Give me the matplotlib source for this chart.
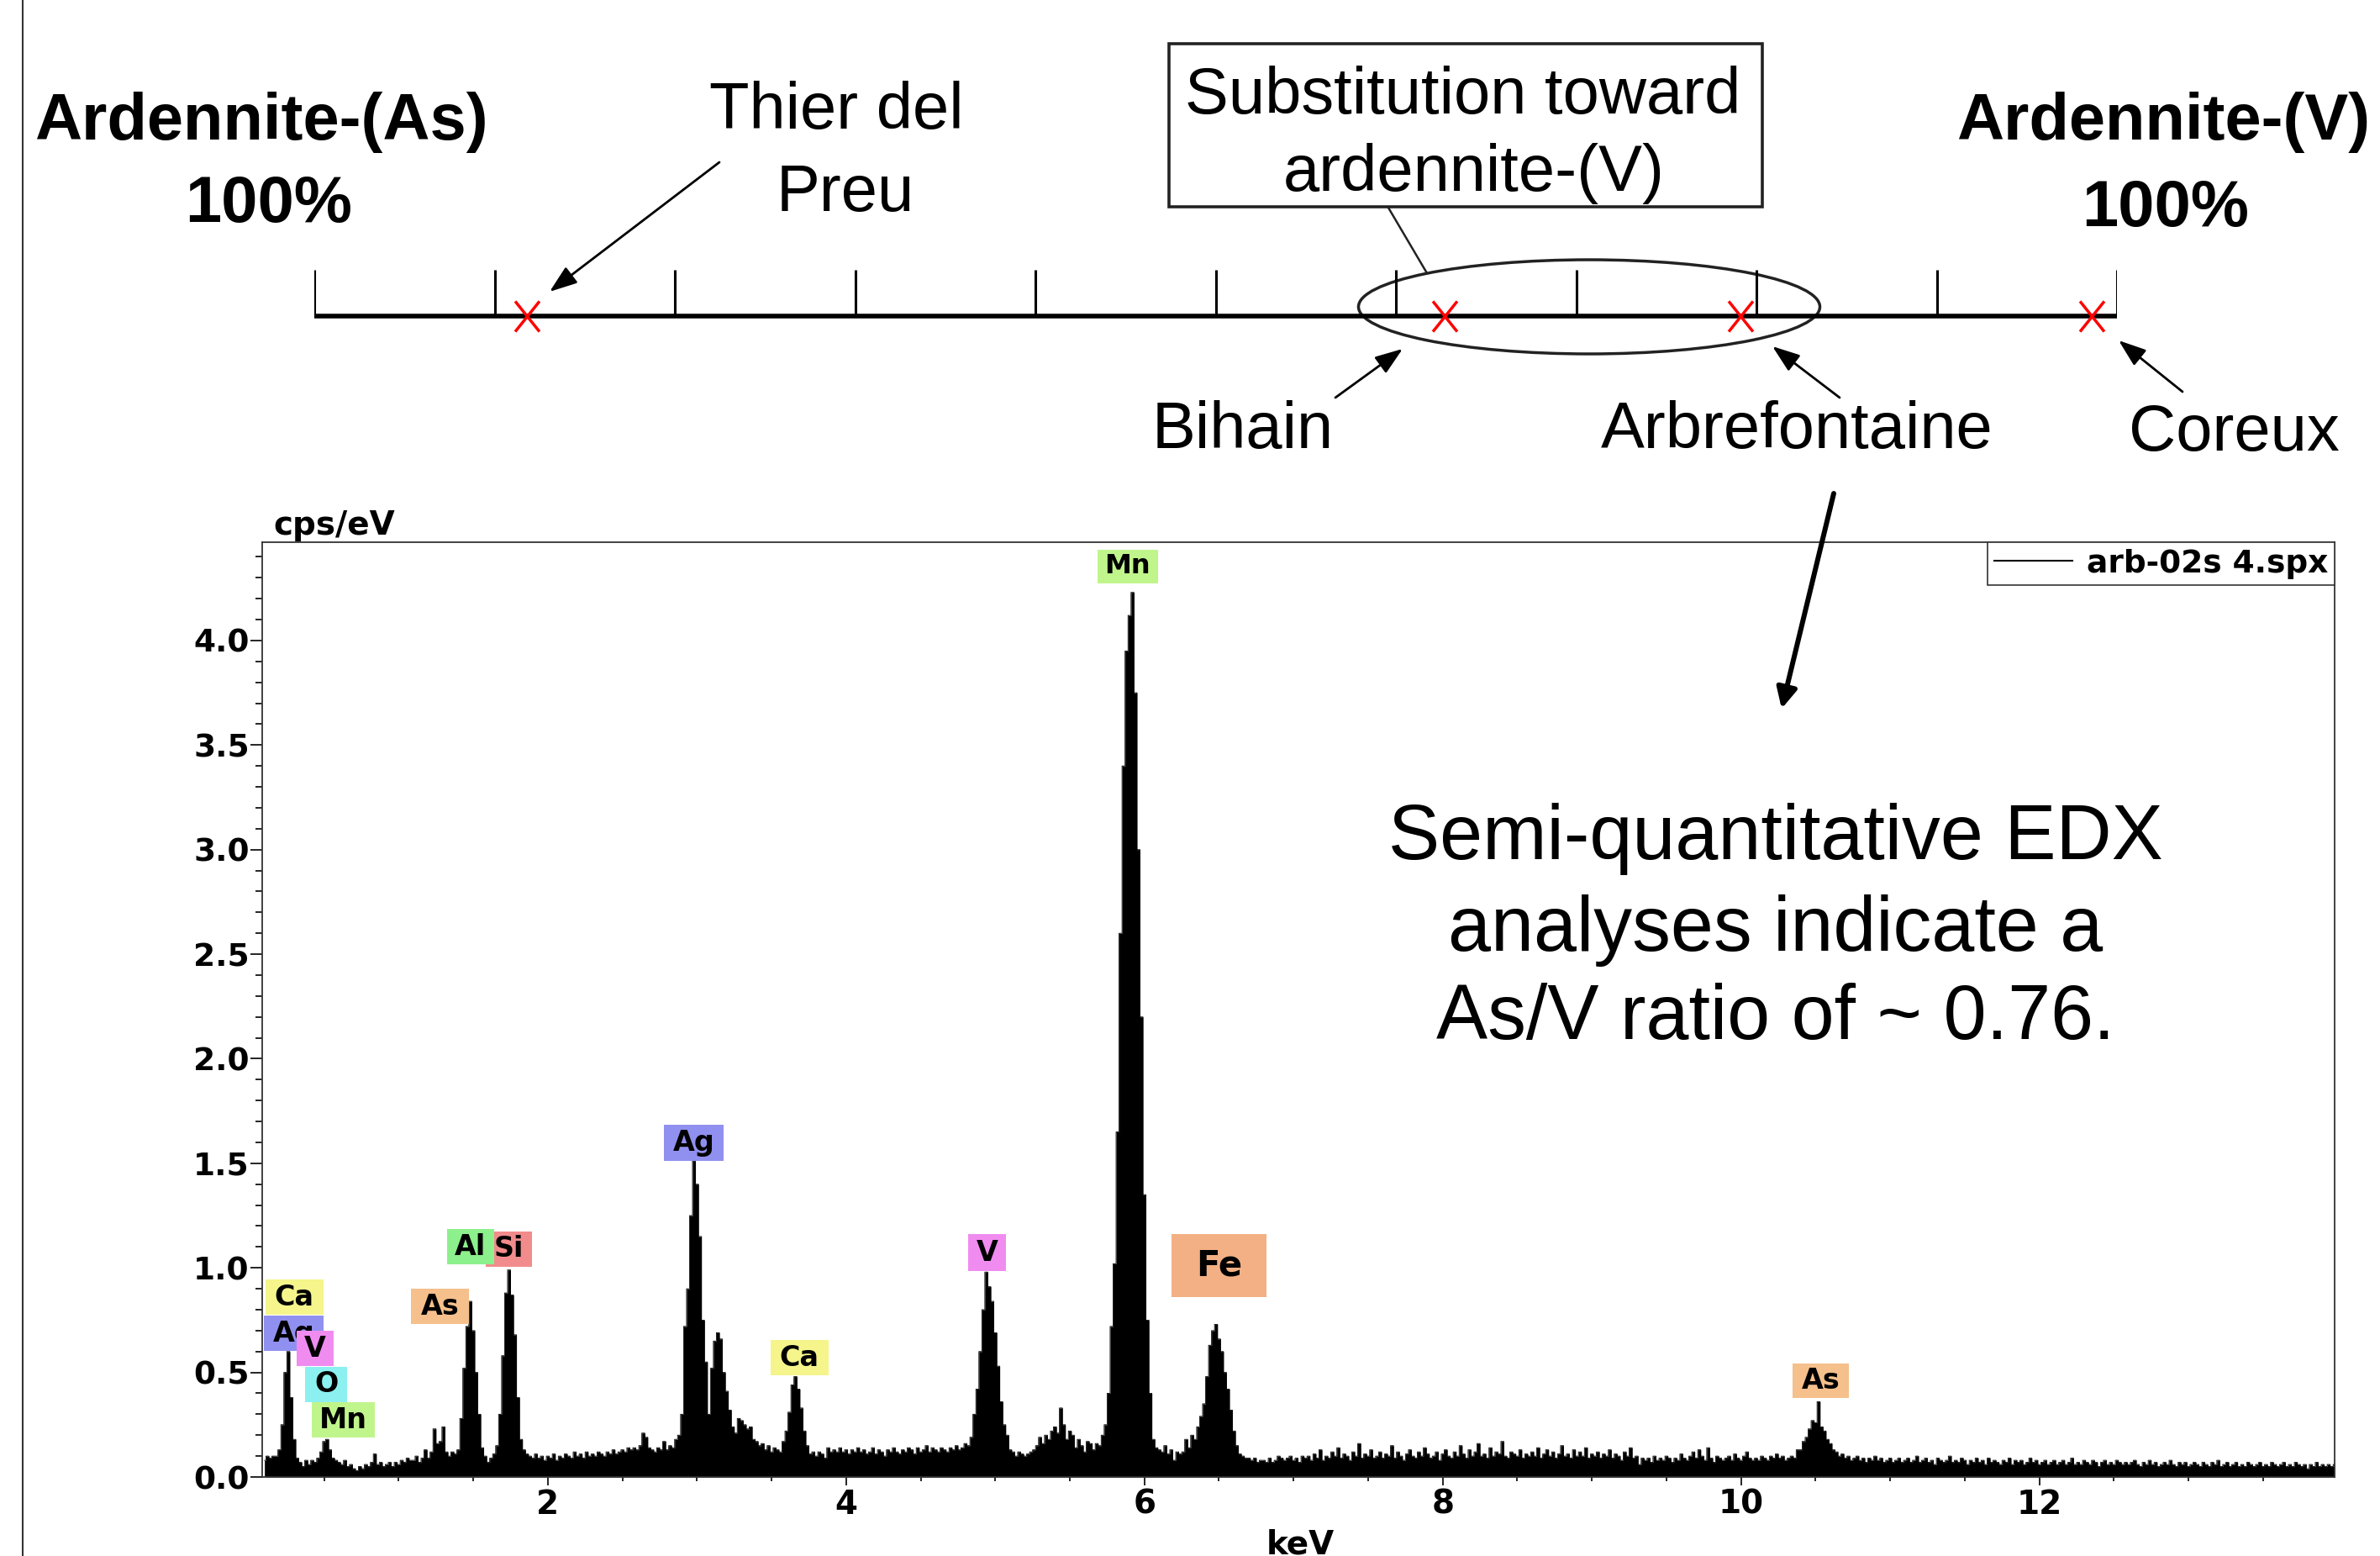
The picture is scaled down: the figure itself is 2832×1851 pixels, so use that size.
import numpy as np
import matplotlib
matplotlib.use('Agg')
import matplotlib.pyplot as plt
from matplotlib.patches import Ellipse, Rectangle
from matplotlib.path import Path
from matplotlib.ticker import MultipleLocator, FormatStrFormatter

plt.rcParams['font.family'] = ['DejaVu Sans']

W, H = 2832, 1851

# EDX spectrum, cps/eV in 0.02 keV channels starting at 0.10 keV
spectrum_start = 0.10
spectrum_step = 0.02
counts = [
    0.08, 0.10, 0.09, 0.10, 0.10, 0.13, 0.25, 0.50, 0.60, 0.38, 0.18, 0.09, 0.07, 0.05, 0.08, 0.06, 0.08, 0.07, 0.09, 0.12, 0.17, 0.18, 0.13, 0.09, 0.08,
    0.07, 0.06, 0.08, 0.05, 0.06, 0.04, 0.03, 0.05, 0.04, 0.06, 0.05, 0.07, 0.11, 0.06, 0.07, 0.05, 0.06, 0.07, 0.05, 0.07, 0.06, 0.08, 0.07, 0.09, 0.08,
    0.08, 0.10, 0.07, 0.09, 0.13, 0.09, 0.12, 0.23, 0.16, 0.17, 0.24, 0.12, 0.10, 0.12, 0.11, 0.13, 0.28, 0.52, 0.72, 0.84, 0.70, 0.50, 0.30, 0.14, 0.10,
    0.07, 0.09, 0.11, 0.15, 0.30, 0.58, 0.88, 0.99, 0.87, 0.68, 0.38, 0.18, 0.13, 0.11, 0.10, 0.09, 0.11, 0.09, 0.10, 0.08, 0.10, 0.09, 0.11, 0.08, 0.10,
    0.09, 0.11, 0.10, 0.09, 0.12, 0.10, 0.11, 0.09, 0.12, 0.10, 0.11, 0.10, 0.12, 0.11, 0.10, 0.12, 0.11, 0.13, 0.11, 0.12, 0.13, 0.12, 0.14, 0.13, 0.14,
    0.13, 0.15, 0.21, 0.19, 0.14, 0.13, 0.12, 0.14, 0.13, 0.17, 0.13, 0.15, 0.14, 0.18, 0.20, 0.30, 0.72, 0.90, 1.25, 1.51, 1.40, 1.15, 0.75, 0.55, 0.30,
    0.52, 0.65, 0.69, 0.66, 0.50, 0.41, 0.32, 0.24, 0.21, 0.28, 0.27, 0.25, 0.23, 0.24, 0.18, 0.17, 0.15, 0.16, 0.13, 0.15, 0.12, 0.14, 0.13, 0.12, 0.17,
    0.22, 0.31, 0.44, 0.48, 0.42, 0.33, 0.22, 0.15, 0.11, 0.12, 0.10, 0.12, 0.11, 0.09, 0.14, 0.12, 0.13, 0.12, 0.14, 0.12, 0.13, 0.11, 0.13, 0.12, 0.14,
    0.12, 0.13, 0.11, 0.12, 0.14, 0.11, 0.13, 0.12, 0.10, 0.13, 0.12, 0.14, 0.12, 0.11, 0.13, 0.12, 0.14, 0.13, 0.11, 0.14, 0.12, 0.13, 0.15, 0.12, 0.14,
    0.13, 0.12, 0.14, 0.13, 0.12, 0.14, 0.13, 0.15, 0.13, 0.14, 0.16, 0.15, 0.19, 0.30, 0.42, 0.60, 0.80, 0.98, 0.91, 0.84, 0.69, 0.53, 0.36, 0.25, 0.20,
    0.13, 0.12, 0.10, 0.12, 0.11, 0.10, 0.11, 0.12, 0.13, 0.15, 0.19, 0.16, 0.20, 0.18, 0.22, 0.24, 0.21, 0.33, 0.25, 0.18, 0.22, 0.20, 0.14, 0.18, 0.15,
    0.12, 0.17, 0.16, 0.13, 0.16, 0.15, 0.20, 0.25, 0.40, 0.72, 1.02, 1.65, 2.60, 3.40, 3.95, 4.12, 4.23, 3.75, 3.00, 2.20, 1.35, 0.75, 0.40, 0.18, 0.14,
    0.13, 0.12, 0.15, 0.11, 0.13, 0.08, 0.12, 0.11, 0.12, 0.18, 0.14, 0.20, 0.18, 0.24, 0.29, 0.35, 0.48, 0.63, 0.70, 0.73, 0.66, 0.60, 0.50, 0.42, 0.32,
    0.22, 0.15, 0.11, 0.10, 0.09, 0.09, 0.08, 0.09, 0.07, 0.08, 0.08, 0.07, 0.09, 0.07, 0.08, 0.10, 0.09, 0.08, 0.09, 0.10, 0.08, 0.09, 0.07, 0.10, 0.09,
    0.10, 0.08, 0.11, 0.09, 0.13, 0.08, 0.10, 0.09, 0.12, 0.10, 0.14, 0.09, 0.11, 0.10, 0.08, 0.12, 0.10, 0.16, 0.09, 0.11, 0.10, 0.13, 0.09, 0.10, 0.12,
    0.09, 0.11, 0.10, 0.15, 0.09, 0.12, 0.10, 0.08, 0.11, 0.13, 0.10, 0.09, 0.12, 0.10, 0.14, 0.11, 0.09, 0.10, 0.12, 0.08, 0.11, 0.13, 0.10, 0.09, 0.12,
    0.10, 0.15, 0.11, 0.09, 0.13, 0.10, 0.12, 0.16, 0.10, 0.11, 0.09, 0.14, 0.10, 0.12, 0.11, 0.17, 0.10, 0.09, 0.12, 0.11, 0.10, 0.13, 0.09, 0.11, 0.10,
    0.12, 0.10, 0.14, 0.09, 0.11, 0.13, 0.10, 0.12, 0.09, 0.11, 0.15, 0.10, 0.11, 0.09, 0.13, 0.10, 0.12, 0.10, 0.14, 0.09, 0.11, 0.10, 0.12, 0.09, 0.11,
    0.10, 0.13, 0.09, 0.11, 0.10, 0.08, 0.12, 0.10, 0.14, 0.09, 0.10, 0.06, 0.09, 0.08, 0.09, 0.07, 0.10, 0.08, 0.09, 0.08, 0.10, 0.09, 0.07, 0.09, 0.08,
    0.11, 0.09, 0.08, 0.10, 0.12, 0.09, 0.13, 0.10, 0.08, 0.14, 0.09, 0.07, 0.10, 0.09, 0.08, 0.09, 0.10, 0.08, 0.11, 0.09, 0.08, 0.10, 0.12, 0.09, 0.08,
    0.09, 0.08, 0.10, 0.09, 0.08, 0.10, 0.09, 0.11, 0.09, 0.10, 0.08, 0.09, 0.10, 0.09, 0.13, 0.13, 0.17, 0.19, 0.23, 0.27, 0.26, 0.36, 0.24, 0.22, 0.18,
    0.16, 0.13, 0.12, 0.10, 0.11, 0.09, 0.10, 0.08, 0.09, 0.10, 0.08, 0.09, 0.07, 0.09, 0.08, 0.10, 0.08, 0.09, 0.07, 0.08, 0.09, 0.07, 0.08, 0.09, 0.07,
    0.08, 0.09, 0.07, 0.08, 0.10, 0.07, 0.08, 0.09, 0.07, 0.08, 0.06, 0.09, 0.08, 0.07, 0.08, 0.10, 0.07, 0.08, 0.07, 0.09, 0.08, 0.06, 0.08, 0.07, 0.09,
    0.07, 0.08, 0.06, 0.09, 0.07, 0.08, 0.07, 0.06, 0.08, 0.07, 0.09, 0.06, 0.08, 0.07, 0.08, 0.06, 0.07, 0.09, 0.07, 0.08, 0.06, 0.07, 0.08, 0.06, 0.07,
    0.08, 0.06, 0.07, 0.08, 0.06, 0.07, 0.09, 0.06, 0.07, 0.06, 0.08, 0.07, 0.06, 0.08, 0.07, 0.05, 0.07, 0.08, 0.06, 0.07, 0.06, 0.08, 0.07, 0.06, 0.07,
    0.06, 0.07, 0.08, 0.06, 0.05, 0.07, 0.06, 0.08, 0.06, 0.07, 0.05, 0.06, 0.07, 0.06, 0.08, 0.06, 0.05, 0.07, 0.06, 0.07, 0.05, 0.06, 0.07, 0.06, 0.05,
    0.07, 0.06, 0.05, 0.07, 0.06, 0.08, 0.05, 0.06, 0.07, 0.05, 0.06, 0.07, 0.05, 0.06, 0.05, 0.07, 0.06, 0.05, 0.06, 0.07, 0.05, 0.06, 0.05, 0.07, 0.06,
    0.05, 0.06, 0.07, 0.05, 0.06, 0.05, 0.07, 0.06, 0.05, 0.06, 0.04, 0.06, 0.05, 0.07, 0.05, 0.06, 0.05, 0.06, 0.05, 0.06,
]
energy = spectrum_start + spectrum_step * np.arange(len(counts))
legend_label = 'arb-02s 4.spx'

# element tags: text, centre keV, centre cps/eV, width keV, height cps/eV, colour, size
peak_labels = [
    ('Ca', 0.300, 0.860, 0.39, 0.170, '#f5f58c', 24),
    ('Ag', 0.296, 0.687, 0.40, 0.170, '#9090f0', 24),
    ('V', 0.440, 0.615, 0.25, 0.170, '#f08cf0', 24),
    ('O', 0.515, 0.443, 0.28, 0.170, '#8cf0f0', 24),
    ('Mn', 0.628, 0.272, 0.42, 0.170, '#c0f58c', 24),
    ('As', 1.276, 0.816, 0.39, 0.170, '#f5c08c', 24),
    ('Si', 1.738, 1.090, 0.31, 0.170, '#f28c8c', 24),
    ('Al', 1.480, 1.100, 0.315, 0.170, '#8cf08c', 24),
    ('Ag', 2.977, 1.598, 0.40, 0.170, '#9090f0', 24),
    ('Ca', 3.687, 0.570, 0.39, 0.170, '#f5f58c', 24),
    ('V', 4.944, 1.073, 0.25, 0.177, '#f08cf0', 24),
    ('Mn', 5.887, 4.354, 0.406, 0.160, '#c0f58c', 23),
    ('Fe', 6.500, 1.011, 0.637, 0.300, '#f2b084', 30),
    ('As', 10.535, 0.460, 0.38, 0.165, '#f5c08c', 24),
]

# substitution scale, % toward ardennite-(V)
scale_ticks = np.arange(0, 101, 10)
localities = ['Thier del Preu', 'Bihain', 'Arbrefontaine', 'Coreux']
locality_pct = [11.8, 62.7, 79.1, 98.6]

fig = plt.figure(figsize=(W / 100, H / 100), dpi=100)

# ---- spectrum ----
ax = fig.add_axes([312 / W, 1 - 1757 / H, (2778 - 312) / W, (1757 - 645) / H])
ax.fill_between(energy, counts, step='mid', color='black', lw=0, zorder=2)
ax.step(energy, counts, where='mid', color='black', lw=0.6, label=legend_label, zorder=2)
ax.set_xlim(0.085, 13.98)
ax.set_ylim(0, 4.47)
ax.xaxis.set_major_locator(MultipleLocator(2))
ax.xaxis.set_minor_locator(MultipleLocator(0.5))
ax.yaxis.set_major_locator(MultipleLocator(0.5))
ax.yaxis.set_minor_locator(MultipleLocator(0.1))
ax.yaxis.set_major_formatter(FormatStrFormatter('%.1f'))
ax.tick_params(axis='x', which='major', direction='out', length=7, width=1.2, labelsize=28, pad=3)
ax.tick_params(axis='x', which='minor', direction='out', length=3.5, width=1.2)
ax.tick_params(axis='y', which='major', direction='out', length=10, width=1.2, labelsize=27, pad=1)
ax.tick_params(axis='y', which='minor', direction='out', length=6, width=1.2)
for lab in ax.get_xticklabels() + ax.get_yticklabels():
    lab.set_fontweight('bold')
for sp in ax.spines.values():
    sp.set_linewidth(1.3)
    sp.set_color('#333333')

ax.set_xlabel('keV', fontsize=28, fontweight='bold')
ax.xaxis.label.set_va('baseline')
ax.xaxis.set_label_coords(0.501, (1757 - 1848) / 1112)
ax.set_ylabel('cps/eV', fontsize=28, fontweight='bold', rotation=0, ha='left', va='baseline')
ax.yaxis.set_label_coords((325 - 312) / 2466, (1757 - 636) / 1112)

for i, (txt, xc, yc, w, h, col, fs) in enumerate(peak_labels):
    ax.add_patch(Rectangle((xc - w / 2, yc - h / 2), w, h, fc=col, ec='none', zorder=3 + 2 * i))
    ax.text(xc, yc, txt, ha='center', va='center', fontsize=fs, fontweight='bold', zorder=4 + 2 * i)

leg = ax.legend(loc='upper right', borderaxespad=0, fancybox=False, framealpha=1,
                edgecolor='#333333', borderpad=0.2, handlelength=2.5, handletextpad=0.45,
                prop={'family': 'DejaVu Sans', 'weight': 'bold', 'size': 27})
leg.get_frame().set_linewidth(1.2)
for ln in leg.get_lines():
    ln.set_linewidth(1.5)

# ---- substitution scale ----
ax_scale = fig.add_axes([374 / W, 1 - 376 / H, (2519 - 374) / W, 55 / H], zorder=6)
ax_scale.set_xlim(0, 100)
ax_scale.set_ylim(0, 1)
ax_scale.axis('off')
ax_scale.plot([0, 100], [0, 0], color='black', lw=4.0, solid_capstyle='butt', clip_on=False)
ax_scale.vlines(scale_ticks, 0, 1, color='black', lw=2.2)
x_mark = Path([(-0.8, -1), (0.8, 1), (-0.8, 1), (0.8, -1)],
              [Path.MOVETO, Path.LINETO, Path.MOVETO, Path.LINETO])
ax_scale.plot(locality_pct, [0] * len(locality_pct), ls='none', marker=x_mark, ms=26,
              mew=2.5, color='#ff0000', clip_on=False, zorder=5)

# ---- page annotations (pixel coordinates) ----
ax_page = fig.add_axes([0, 0, 1, 1], zorder=5)
ax_page.set_xlim(0, W)
ax_page.set_ylim(H, 0)
ax_page.axis('off')

arial = 'Liberation Sans'
big = dict(family=arial, fontsize=56, ha='center', va='baseline')
ax_page.text(311, 166, 'Ardennite-(As)', fontweight='bold', **big)
ax_page.text(320, 264, '100%', fontweight='bold', **big)
ax_page.text(2574, 166, 'Ardennite-(V)', fontweight='bold', **big)
ax_page.text(2577, 269, '100%', fontweight='bold', **big)
ax_page.text(995, 153, 'Thier del', **big)
ax_page.text(1006, 251, 'Preu', **big)
ax_page.text(1741, 135, 'Substitution toward', **big)
ax_page.text(1754, 227, 'ardennite-(V)', **big)
ax_page.text(1479, 533, 'Bihain', **big)
ax_page.text(2138, 533, 'Arbrefontaine', **big)
ax_page.text(2658, 536, 'Coreux', **big)

edx = dict(family=arial, fontsize=66, ha='center', va='baseline')
ax_page.text(2113, 1022, 'Semi-quantitative EDX', **edx)
ax_page.text(2113, 1131, 'analyses indicate a', **edx)
ax_page.text(2113, 1236, 'As/V ratio of ~ 0.76.', **edx)

ax_page.add_patch(Rectangle((1391, 52), 706, 194, fill=False, ec='#222222', lw=2.6))
ax_page.plot([1652, 1698], [247, 325], color='#222222', lw=1.8)
ax_page.add_patch(Ellipse((1891, 365), 549, 112, fill=False, ec='#222222', lw=2.5))
ax_page.plot([27, 27], [0, H], color='#333333', lw=1.5)

thin = dict(arrowstyle='-|>,head_length=0.5,head_width=0.18', color='black', lw=2.0,
            mutation_scale=40, shrinkA=0, shrinkB=0)
for tail, head in [((856, 193), (654, 347)), ((1589, 473), (1669, 415)),
                   ((2189, 473), (2109, 412)), ((2597, 466), (2521, 405))]:
    ax_page.annotate('', xy=head, xytext=tail, arrowprops=thin)
ax_page.annotate('', xy=(2120, 843), xytext=(2182, 587),
                 arrowprops=dict(arrowstyle='-|>,head_length=0.6,head_width=0.3', color='black',
                                 lw=4.3, mutation_scale=24, shrinkA=0, shrinkB=0))

fig.savefig('out.png', dpi=100)
